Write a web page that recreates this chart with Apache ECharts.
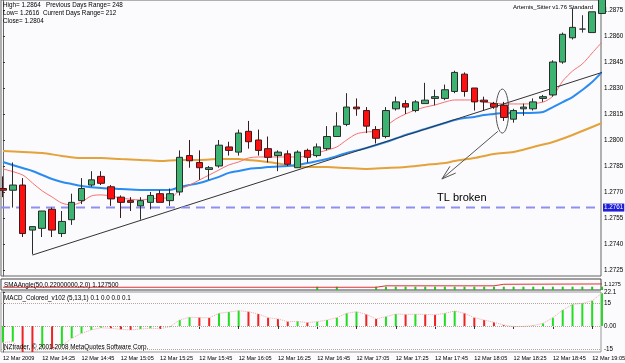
<!DOCTYPE html>
<html>
<head>
<meta charset="utf-8">
<script src="https://cdn.jsdelivr.net/npm/echarts@6/dist/echarts.min.js"></script>
<style>
  html, body { margin: 0; padding: 0; background: #fbfafc; }
  #chart { width: 625px; height: 363px; }
</style>
</head>
<body>
<div id="chart"></div>
<script>
// EURUSD-style M5 bars, 12 Mar 2009 14:05 .. 19:10 ; [open, close, low, high]
const candles = [
  [1.2772, 1.2771, 1.2767, 1.2779], [1.2771, 1.2774, 1.2761, 1.2787], [1.2774, 1.2746, 1.2744, 1.2778],
  [1.2748, 1.2750, 1.2734, 1.2750], [1.2749, 1.2759, 1.2744, 1.2759], [1.2760, 1.2748, 1.2744, 1.2761],
  [1.2746, 1.2753, 1.2744, 1.2759], [1.2754, 1.2764, 1.2751, 1.2769], [1.2765, 1.2772, 1.2763, 1.2778],
  [1.2774, 1.2777, 1.2773, 1.2782], [1.2779, 1.2775, 1.2774, 1.2782], [1.2773, 1.2766, 1.2762, 1.2774],
  [1.2767, 1.2764, 1.2755, 1.2768], [1.2765, 1.2764, 1.2759, 1.2767], [1.2762, 1.2765, 1.2754, 1.2767],
  [1.2764, 1.2768, 1.2760, 1.2770], [1.2769, 1.2764, 1.2764, 1.2771], [1.2765, 1.2769, 1.2762, 1.2772],
  [1.2770, 1.2790, 1.2768, 1.2794], [1.2791, 1.2788, 1.2784, 1.2800], [1.2787, 1.2784, 1.2777, 1.2794],
  [1.2783, 1.2784, 1.2777, 1.2785], [1.2785, 1.2797, 1.2784, 1.2800], [1.2796, 1.2794, 1.2791, 1.2799],
  [1.2793, 1.2804, 1.2791, 1.2806], [1.2805, 1.2799, 1.2795, 1.2811], [1.2800, 1.2794, 1.2791, 1.2806],
  [1.2795, 1.2790, 1.2787, 1.2802], [1.2791, 1.2793, 1.2782, 1.2794], [1.2792, 1.2786, 1.2785, 1.2794],
  [1.2784, 1.2793, 1.2784, 1.2794], [1.2794, 1.2790, 1.2787, 1.2795], [1.2791, 1.2796, 1.2790, 1.2798],
  [1.2795, 1.2802, 1.2794, 1.2808], [1.2802, 1.2808, 1.2802, 1.2816], [1.2809, 1.2819, 1.2808, 1.2827],
  [1.2819, 1.2818, 1.2814, 1.2824], [1.2817, 1.2808, 1.2804, 1.2819], [1.2806, 1.2801, 1.2798, 1.2808],
  [1.2802, 1.2817, 1.2801, 1.2819], [1.2818, 1.2822, 1.2817, 1.2825], [1.2821, 1.2819, 1.2815, 1.2823],
  [1.2817, 1.2822, 1.2816, 1.2823], [1.2821, 1.2823, 1.2821, 1.2833], [1.2824, 1.2825, 1.2820, 1.2829],
  [1.2824, 1.2829, 1.2823, 1.2832], [1.2828, 1.2839, 1.2827, 1.2840], [1.2838, 1.2828, 1.2825, 1.2839],
  [1.2830, 1.2822, 1.2817, 1.2830], [1.2823, 1.2822, 1.2817, 1.2825], [1.2821, 1.2819, 1.2818, 1.2822],
  [1.2820, 1.2813, 1.2811, 1.2822], [1.2812, 1.2817, 1.2810, 1.2818], [1.2818, 1.2819, 1.2814, 1.2821],
  [1.2818, 1.2822, 1.2817, 1.2824], [1.2824, 1.2825, 1.2822, 1.2826], [1.2826, 1.2845, 1.2825, 1.2846],
  [1.2845, 1.2861, 1.2844, 1.2862], [1.2859, 1.2865, 1.2858, 1.2876], [1.2864, 1.2864, 1.2862, 1.2872],
  [1.2862, 1.2874, 1.2862, 1.2874], [1.2873, 1.2883, 1.2873, 1.2883]
];

// moving averages, [bar index, price]
const maRed = [[0,1.27833],[2,1.27798],[3,1.27752],[4,1.27706],[5,1.27671],[6,1.27636],[7,1.27625],[8,1.27642],
  [9,1.27677],[10,1.27683],[11,1.27677],[12,1.27665],[14,1.27654],[16,1.27665],[17,1.27665],[18,1.27712],
  [19,1.2774],[20,1.27769],[21,1.27798],[22,1.27827],[23,1.27856],[24,1.27873],[25,1.27896],[26,1.27902],
  [28,1.27902],[30,1.27902],[31,1.27908],[32,1.27925],[33,1.27942],[34,1.2796],[35,1.28],[36,1.28035],
  [37,1.28046],[38,1.28052],[39,1.28081],[40,1.28121],[41,1.2815],[42,1.28173],[43,1.2819],[44,1.28202],
  [45,1.28219],[46,1.28231],[47,1.28231],[48,1.28231],[49,1.28219],[50,1.28213],[51,1.28208],[53,1.28208],
  [55,1.28219],[56,1.28254],[57,1.2834],[58,1.28398],[59,1.28439],[60,1.28502],[61,1.28565]];
const maBlue = [[0,1.27873],[2,1.27838],[3,1.27821],[4,1.27798],[5,1.27775],[6,1.27758],[7,1.27746],[8,1.27735],
  [10,1.27723],[12,1.27717],[14,1.27712],[17,1.27712],[18,1.27729],[19,1.2774],[20,1.27752],[21,1.27769],
  [22,1.27787],[23,1.2781],[24,1.27821],[25,1.27833],[26,1.27838],[27,1.27844],[29,1.2785],[30,1.27856],
  [31,1.27867],[33,1.2789],[35,1.27925],[37,1.27954],[39,1.27988],[41,1.28029],[43,1.28063],[45,1.28098],
  [46,1.28115],[47,1.28127],[48,1.28133],[49,1.28144],[50,1.2815],[51,1.28156],[53,1.28156],[55,1.28162],
  [56,1.2819],[57,1.28219],[58,1.28248],[59,1.28289],[60,1.28335],[61,1.28392]];
const maOrange = [[0,1.27937],[2,1.27931],[4,1.27925],[6,1.27908],[8,1.27896],[10,1.27896],[12,1.2789],
  [14,1.27885],[16,1.27879],[18,1.27885],[20,1.27885],[22,1.2789],[24,1.2789],[25,1.27885],[27,1.27873],
  [29,1.27856],[31,1.27844],[33,1.27844],[35,1.27838],[37,1.27833],[39,1.27838],[41,1.27844],[43,1.27856],
  [45,1.27867],[46,1.27879],[48,1.27896],[50,1.27919],[52,1.27931],[54,1.2796],[56,1.27988],[58,1.28029],
  [60,1.28075],[61,1.28098]];

// hand drawn objects
const trendLine = [[3, 1.27336], [61, 1.2839]];
const supportLevel = 1.2761;
const ellipseBox = [[50.2, 1.28294], [51.5, 1.2804]];   // corners (bar, price)
const arrowFrom = [50.4, 1.2805];
const arrowTo = [44.7, 1.27775];

// MACD_Colored histogram, one value per bar
const macd = [-10.9, -10.2, -17.4, -17.6, -14, -15, -13, -8, -4.8, -2.6, -1.2, -1.5, -2.2, -2.6, -2.0, -1.5,
  -1.8, -0.5, 3.9, 5.7, 5.5, 5.3, 8.3, 9.1, 10, 9.3, 7.8, 5.4, 4.6, 2.8, 3.0, 2.2, 2.8, 3.9, 5.4, 8.3, 9.3,
  7.6, 4.6, 6.1, 7.8, 7.5, 7.7, 7.5, 7.3, 8.3, 9.8, 8.3, 5.4, 3.9, 2.4, 0.6, -0.4, -0.3, 0.3, 1.7, 5.4,
  10.4, 14.1, 14.8, 16.5, 21.5];
const macdLevels = [15, 0, -15];
const macdTicks = [-15, 0, 15, 22.1];

// SMAAngle sub window
const smaLine = [[0,0.25],[38,0.25],[39,0.38],[50,0.38],[51,0.52],[61,0.55]];
const smaUpIdx = [32,34,38,39,40,41,42,43,44,45,46,47,48,49,50,51,52,53,54,55,56,57,58,59,60,61];

// axis labels
const priceTicks = [1.2725, 1.274, 1.2755, 1.277, 1.2785, 1.28, 1.2815, 1.283, 1.2845, 1.286, 1.2875];
const timeTickIdx = [0, 4, 8, 12, 16, 20, 24, 28, 32, 36, 40, 44, 48, 52, 56, 60];
const timeLabels = ['12 Mar 2009', '12 Mar 14:25', '12 Mar 14:45', '12 Mar 15:05', '12 Mar 15:25',
  '12 Mar 15:45', '12 Mar 16:05', '12 Mar 16:25', '12 Mar 16:45', '12 Mar 17:05', '12 Mar 17:25',
  '12 Mar 17:45', '12 Mar 18:05', '12 Mar 18:25', '12 Mar 18:45', '12 Mar 19:05'];

const FONT = 'Liberation Sans';
const SMALL = 6.3;
const xMin = -0.2, xMax = 60.9;

const chart = echarts.init(document.getElementById('chart'));

const hiddenX = (g) => ({ type: 'value', gridIndex: g, min: xMin, max: xMax, show: false });
const gridBase = { left: 1, width: 600, show: true, borderWidth: 1, containLabel: false, outerBoundsMode: 'none' };

chart.setOption({
  animation: false,
  backgroundColor: '#fbfafc',
  grid: [
    Object.assign({ top: 0, height: 276, borderColor: '#666' }, gridBase),
    Object.assign({ top: 279, height: 11, borderColor: '#444' }, gridBase),
    Object.assign({ top: 292, height: 60, borderColor: '#999' }, gridBase)
  ],
  xAxis: [
    hiddenX(0),
    hiddenX(1),
    {
      type: 'value', gridIndex: 2, min: xMin, max: xMax,
      axisLine: { show: false }, splitLine: { show: false },
      axisTick: { show: true, customValues: timeTickIdx, length: 3, lineStyle: { color: '#333' } },
      axisLabel: {
        customValues: timeTickIdx, align: 'left', margin: 3, fontSize: 5.6, color: '#000', fontFamily: FONT,
        hideOverlap: false, showMinLabel: true, showMaxLabel: true,
        formatter: v => timeLabels[timeTickIdx.indexOf(Math.round(v))] || ''
      }
    }
  ],
  yAxis: [
    {
      type: 'value', gridIndex: 0, position: 'right', min: 1.27215, max: 1.28808,
      splitLine: { show: false },
      axisLine: { show: true, lineStyle: { color: '#666' } },
      axisTick: { show: true, customValues: priceTicks, length: 2, lineStyle: { color: '#333' } },
      axisLabel: {
        customValues: priceTicks, showMinLabel: true, showMaxLabel: true, hideOverlap: false,
        formatter: v => v.toFixed(4), fontSize: SMALL, color: '#000', fontFamily: FONT, margin: 3
      }
    },
    { type: 'value', gridIndex: 1, position: 'right', min: 0, max: 1, show: false },
    {
      type: 'value', gridIndex: 2, position: 'right', min: -17, max: 22.2,
      splitLine: { show: false },
      axisLine: { show: true, lineStyle: { color: '#666' } },
      axisTick: { show: true, customValues: macdTicks, length: 2, lineStyle: { color: '#333' } },
      axisLabel: {
        customValues: macdTicks, showMinLabel: true, showMaxLabel: true, hideOverlap: false,
        fontSize: SMALL, color: '#000', fontFamily: FONT, margin: 3,
        formatter: v => (v === 0 ? '0.00' : String(v))
      }
    }
  ],
  series: [
    {
      type: 'line', name: 'MA slow', xAxisIndex: 0, yAxisIndex: 0, data: maOrange, smooth: 0.3,
      showSymbol: false, lineStyle: { color: '#e3a33a', width: 2 }, z: 2
    },
    {
      type: 'line', name: 'MA mid', xAxisIndex: 0, yAxisIndex: 0, data: maBlue, smooth: 0.3,
      showSymbol: false, lineStyle: { color: '#2a8cf0', width: 2 }, z: 2
    },
    {
      type: 'line', name: 'MA fast', xAxisIndex: 0, yAxisIndex: 0, data: maRed, smooth: 0.3,
      showSymbol: false, lineStyle: { color: '#f77070', width: 1 }, z: 2
    },
    {
      type: 'line', name: 'trend', xAxisIndex: 0, yAxisIndex: 0, data: trendLine,
      showSymbol: false, lineStyle: { color: '#333', width: 1 }, z: 3, clip: true
    },
    {
      // horizontal support level across the whole window, price tag on the axis
      type: 'line', name: 'level', xAxisIndex: 0, yAxisIndex: 0, clip: false, z: 3,
      data: [[xMin, supportLevel], [xMax, supportLevel]],
      showSymbol: false, lineStyle: { color: '#8f8ff2', type: [9, 6], width: 2 },
      endLabel: {
        show: true, formatter: supportLevel.toFixed(4), distance: 2,
        backgroundColor: '#1f1fd6', color: '#fff', fontSize: SMALL, fontFamily: FONT, padding: [1, 1]
      }
    },
    {
      type: 'candlestick', name: 'price', xAxisIndex: 0, yAxisIndex: 0,
      data: candles.map((c, i) => [i, c[0], c[1], c[2], c[3]]),
      encode: { x: 0, y: [1, 2, 3, 4] },
      barWidth: 7, clip: true, z: 4,
      itemStyle: {
        color: '#3cb371', color0: '#ff1010',
        borderColor: '#2b2b2b', borderColor0: '#3a1a1a', borderColorDoji: '#333', borderWidth: 1
      }
    },
    // SMAAngle window
    {
      type: 'line', xAxisIndex: 1, yAxisIndex: 1, data: smaLine, showSymbol: false,
      lineStyle: { color: '#e03030', width: 1 }
    },
    {
      type: 'bar', xAxisIndex: 1, yAxisIndex: 1, stack: 'sma', barWidth: 2, silent: true,
      data: smaUpIdx.map(i => [i, 0.3]), itemStyle: { color: 'transparent' }
    },
    {
      type: 'bar', xAxisIndex: 1, yAxisIndex: 1, stack: 'sma', barWidth: 2,
      data: smaUpIdx.map(i => [i, 0.3]), itemStyle: { color: '#22c422' }
    },
    // MACD window
    {
      type: 'bar', xAxisIndex: 2, yAxisIndex: 2, barWidth: 2,
      data: macd.map((v, i) => [i, v]),
      itemStyle: {
        color: p => (p.dataIndex === 0 || macd[p.dataIndex] >= macd[p.dataIndex - 1]) ? '#22dd22' : '#ee2222'
      },
      markLine: {
        silent: true, symbol: 'none', animation: false, label: { show: false },
        data: macdLevels.map(v => ({ yAxis: v })),
        lineStyle: { color: '#b8a898', type: 'dotted', width: 1 }
      }
    },
    {
      type: 'line', xAxisIndex: 2, yAxisIndex: 2, data: macd.map((v, i) => [i, v]),
      showSymbol: false, lineStyle: { color: '#e8b0a8', type: 'dotted', width: 1 }
    }
  ]
});

function txt(x, y, text, size, extra) {
  return {
    type: 'text', x, y, z: 60,
    style: Object.assign({ text, fill: '#000', fontSize: size, fontFamily: FONT, verticalAlign: 'middle' }, extra || {})
  };
}

function annotations() {
  const toPx = p => chart.convertToPixel({ xAxisIndex: 0, yAxisIndex: 0 }, p);
  const a = toPx(ellipseBox[0]), b = toPx(ellipseBox[1]);
  const from = toPx(arrowFrom), tip = toPx(arrowTo);
  const dx = from[0] - tip[0], dy = from[1] - tip[1], len = Math.hypot(dx, dy);
  const ux = dx / len, uy = dy / len;
  const head = ang => {
    const c = Math.cos(ang), s = Math.sin(ang);
    return [tip[0] + 15 * (ux * c - uy * s), tip[1] + 15 * (ux * s + uy * c)];
  };
  return [
    {
      type: 'ellipse', z: 50,
      shape: { cx: (a[0] + b[0]) / 2, cy: (a[1] + b[1]) / 2, rx: Math.abs(b[0] - a[0]) / 2, ry: Math.abs(b[1] - a[1]) / 2 },
      style: { fill: 'none', stroke: '#555', lineWidth: 1 }
    },
    { type: 'line', z: 50, shape: { x1: from[0], y1: from[1], x2: tip[0], y2: tip[1] }, style: { stroke: '#555', lineWidth: 1 } },
    { type: 'polyline', z: 50, shape: { points: [head(0.3), tip, head(-0.3)] }, style: { stroke: '#555', fill: 'none', lineWidth: 1 } }
  ];
}

chart.setOption({
  graphic: [
    txt(3, 5, 'High= 1.2864', SMALL),
    txt(46, 5, 'Previous Days Range= 248', SMALL),
    txt(3, 13, 'Low= 1.2616', SMALL),
    txt(43, 13, 'Current Days Range= 212', SMALL),
    txt(3, 21, 'Close= 1.2804', SMALL),
    txt(513, 7, 'Artemis_Sitter v1.76 Standard', 6),
    txt(437, 198, 'TL broken', 11),
    txt(4, 285, 'SMAAngle(50,0.22000000,2,0) 1.127500', SMALL),
    txt(604, 284, '1.1275', 5.5),
    txt(4, 298, 'MACD_Colored_v102 (5,13,1) 0.1 0.0 0.0 0.1', SMALL),
    txt(4, 347, 'NZtrader, \u00a9 2001-2008 MetaQuotes Software Corp.', SMALL),
    ...annotations()
  ]
});
</script>
</body>
</html>
